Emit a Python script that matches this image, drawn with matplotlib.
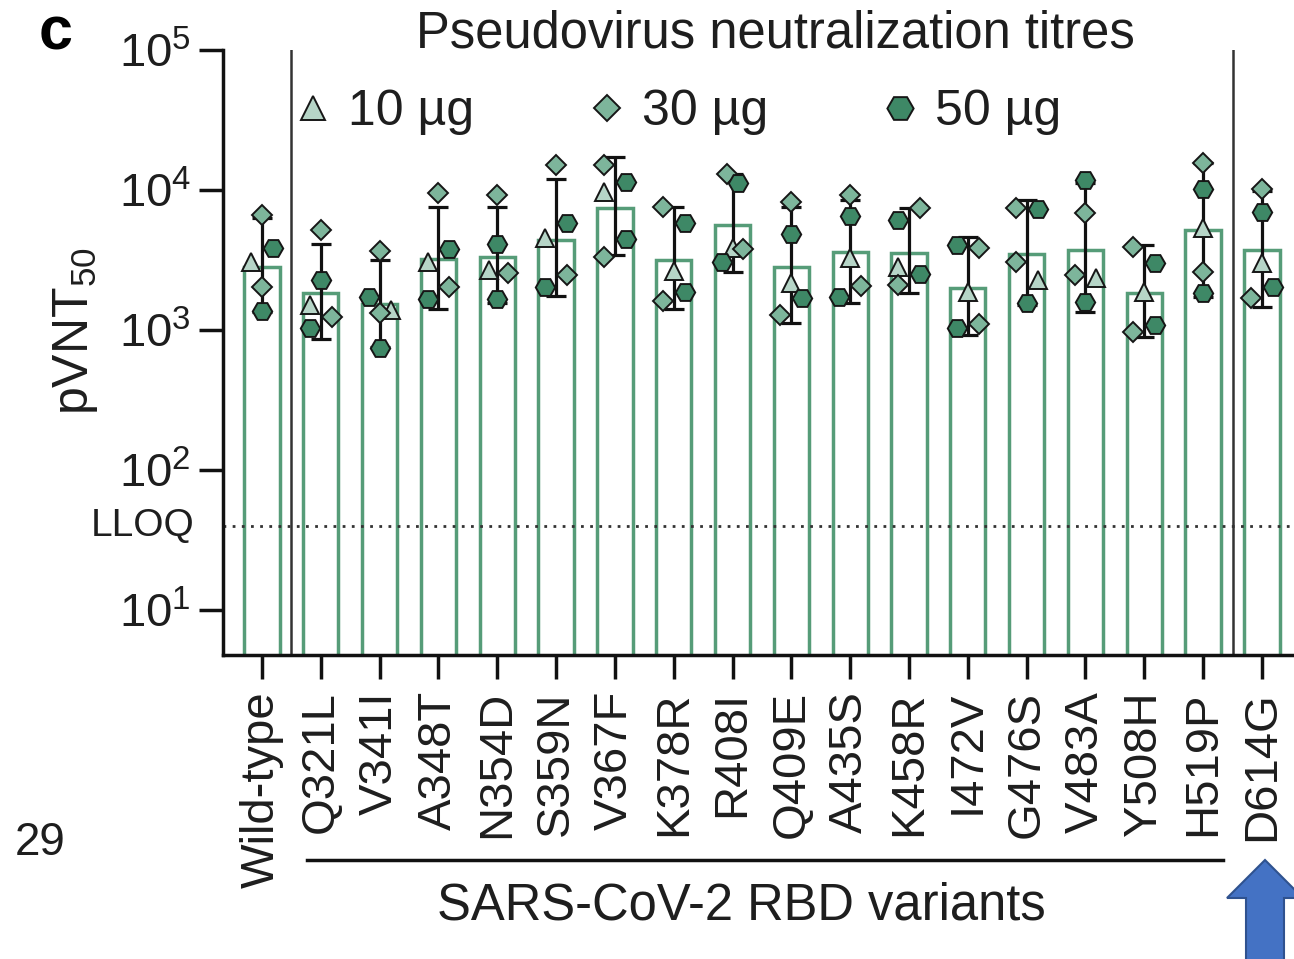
import matplotlib
matplotlib.use("Agg")
import matplotlib.pyplot as plt
from matplotlib.ticker import FixedLocator, LogFormatterMathtext, NullLocator
from matplotlib.transforms import blended_transform_factory, ScaledTranslation
from matplotlib.patches import FancyArrow
import numpy as np

plt.rcParams['font.family'] = ['Liberation Sans', 'DejaVu Sans']
plt.rcParams['mathtext.fontset'] = 'custom'
plt.rcParams['mathtext.rm'] = 'Liberation Sans'
plt.rcParams['mathtext.it'] = 'Liberation Sans:italic'
plt.rcParams['mathtext.bf'] = 'Liberation Sans:bold'
plt.rcParams['text.color'] = '#1e1e1e'

# ---- data ----
variants = ['Wild-type', 'Q321L', 'V341I', 'A348T', 'N354D', 'S359N', 'V367F',
            'K378R', 'R408I', 'Q409E', 'A435S', 'K458R', 'I472V', 'G476S',
            'V483A', 'Y508H', 'H519P', 'D614G']

gmt = [2820, 1830, 1530, 3200, 3300, 4390, 7400, 3160, 5620, 2800, 3620,
       3560, 1990, 3490, 3730, 1830, 5180, 3730]
ci_low = [1345, 858, 760, 1405, 1560, 1760, 3430, 1405, 2580, 1117, 1550,
          1830, 920, 1500, 1350, 895, 1710, 1470]
ci_high = [6290, 4110, 3160, 7600, 7520, 11900, 17300, 7520, 13100, 7520, 8500,
           7400, 4590, 8480, 11160, 4050, 15500, 9800]

dose10 = [3060, 1510, 1390, 3070, 2680, 4520, 9730, 2660, 3830, 2150, 3250,
          2830, 1880, 2280, 2340, 1880, 5320, 3030]
dose30 = [[6620, 2030], [5180, 1245], [3690, 1315], [9570, 2020], [9200, 2570],
          [15090, 2470], [15090, 3300], [7520, 1620], [13000, 3770], [8260, 1280],
          [9200, 2060], [7400, 2100], [3830, 1100], [7400, 3070], [6890, 2470],
          [3890, 973], [15670, 2610], [10120, 1680]]
dose50 = [[3850, 1370], [2280, 1040], [1730, 740], [3770, 1660], [4110, 1660],
          [5850, 2040], [11460, 4450], [5850, 1880], [11270, 3070], [4850, 1680],
          [6520, 1730], [6110, 2510], [4050, 1030], [7270, 1550], [11790, 1590],
          [3030, 1090], [10120, 1850], [7000, 2040]]

# horizontal jitter side of each point (-1 left, 0 centre, +1 right)
side10 = [-1, -1, 1, -1, -0.75, -1, -1, 0, 0, 0, 0, -1, 0, 1, 1, 0, 0, 0]
side30 = [[0, 0], [0, 1], [0, 0], [0, 1], [0, 1], [0, 1], [-1, -1], [-1, -1],
          [-0.5, 1], [0, -1], [0, 1], [1, -1], [1, 1], [-1, -1], [0, -1],
          [-1, -1], [0, 0], [0, -1]]
side50 = [[1, 0], [0, -1], [-1, 0], [1, -1], [0, 0], [1, -1], [1, 1], [1, 1],
          [0.5, -1], [0, 1], [0, -1], [-1, 1], [-1, -1], [1, 0], [0, 0],
          [1, 1], [0, 0], [0, 1]]

lloq = 40

# ---- styling ----
bar_green = '#569c78'
c10, c30, c50 = '#b6d5c7', '#7db59b', '#3e8866'
edge = '#161616'
jit = 0.185

fig = plt.figure(figsize=(12.94, 9.59), dpi=100)
ax = fig.add_axes([223 / 1294, 304 / 959, 1071 / 1294, 605 / 959])

x = np.arange(len(variants))
ax.bar(x, np.array(gmt) - 1, bottom=1, width=0.6, facecolor='white',
       edgecolor=bar_green, linewidth=2.5, zorder=1)

# group separators and LLOQ
for xs in (0.5, 16.5):
    ax.axvline(xs, color='#333333', lw=1.8, zorder=2)
ax.axhline(lloq, color='#333333', lw=2, ls=(0, (1, 2.3)), zorder=2)

g = np.array(gmt)
ax.errorbar(x, g, yerr=[g - np.array(ci_low), np.array(ci_high) - g], fmt='none',
            ecolor='#111111', elinewidth=2.3, capsize=7.2, capthick=2.3, zorder=3)

x10 = x + jit * np.array(side10)
x30 = (x[:, None] + jit * np.array(side30)).ravel()
x50 = (x[:, None] + jit * np.array(side50)).ravel()
ax.plot(x10, dose10, ls='none', marker='^', ms=13, mfc=c10, mec=edge, mew=1.4,
        zorder=4, label='10 µg')
ax.plot(x30, np.array(dose30).ravel(), ls='none', marker='D', ms=10, mfc=c30,
        mec=edge, mew=1.4, zorder=4, label='30 µg')
ax.plot(x50, np.array(dose50).ravel(), ls='none', marker='H', ms=14, mfc=c50,
        mec=edge, mew=1.4, zorder=5, label='50 µg')

ax.set_yscale('log')
ax.set_ylim(10 ** 0.679, 1e5)
ax.set_xlim(-0.663, 17.545)
ax.yaxis.set_major_locator(FixedLocator([1e1, 1e2, 1e3, 1e4, 1e5]))
ax.yaxis.set_major_formatter(LogFormatterMathtext())
ax.yaxis.set_minor_locator(NullLocator())

ax.set_xticks(x)
ax.set_xticklabels(variants, rotation=90, fontsize=34)
ax.tick_params(axis='x', length=17, width=2.5, pad=9, colors='#111111',
               labelcolor='#1e1e1e')
ax.tick_params(axis='y', length=17, width=2.5, pad=6, labelsize=34,
               colors='#111111', labelcolor='#1e1e1e')
for s in ('top', 'right'):
    ax.spines[s].set_visible(False)
for s in ('left', 'bottom'):
    ax.spines[s].set_linewidth(2.5)
    ax.spines[s].set_color('#111111')

ax.text(0, lloq, 'LLOQ', fontsize=28, ha='right', va='center',
        transform=ax.get_yaxis_transform() + ScaledTranslation(-0.28, 0, fig.dpi_scale_trans))

ax.legend(loc='center left', bbox_to_anchor=(298 / 1294, 1 - 112 / 959),
          bbox_transform=fig.transFigure, ncol=3, frameon=False, fontsize=36,
          handlelength=0.6, handletextpad=0.4, columnspacing=2.35, borderpad=0,
          borderaxespad=0, markerscale=1.35, numpoints=1)

# titles and labels
fig.text(39 / 1294, 1 - 50 / 959, 'c', fontsize=44, fontweight='bold',
         ha='left', va='baseline', color='black')
fig.text(775 / 1294, 1 - 48 / 959, 'Pseudovirus neutralization titres',
         fontsize=36.5, ha='center', va='baseline')
fig.text(75 / 1294, 1 - 331 / 959, 'pVNT$_{50}$', rotation=90, fontsize=36,
         ha='center', va='center')
fig.text(15 / 1294, 1 - 855 / 959, '29', fontsize=33, ha='left', va='baseline')

# bracket under the RBD variants
tr = blended_transform_factory(ax.transData, fig.transFigure)
ax.plot([1 - 0.23, 16 + 0.34], [1 - 860 / 959] * 2, color='#111111', lw=2.5,
        transform=tr, clip_on=False)
fig.text(741 / 1294, 1 - 920 / 959, 'SARS-CoV-2 RBD variants', fontsize=36.5,
         ha='center', va='baseline')

# blue arrow pointing at D614G
arrow = FancyArrow(12.65, -0.1, 0, 1.09, width=0.38, head_width=0.76,
                   head_length=0.38, length_includes_head=True,
                   transform=fig.dpi_scale_trans, fc='#4472C4', ec='#2F528F',
                   lw=1.5, clip_on=False)
fig.add_artist(arrow)

fig.savefig('out.png', dpi=100)
